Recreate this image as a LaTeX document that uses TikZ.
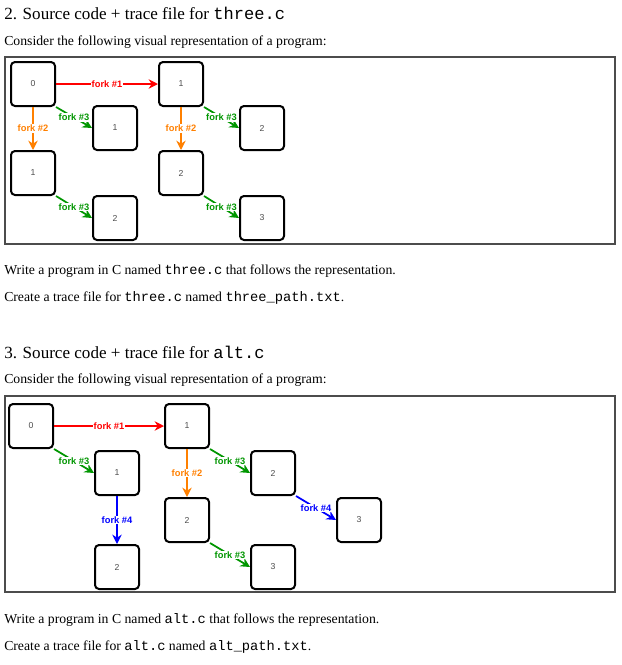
\documentclass[tikz,border=0pt]{standalone}
\usepackage{fontspec}
\setmainfont{Liberation Serif}
\setmonofont{Liberation Mono}
\newfontfamily\dsans{Liberation Sans}
\usetikzlibrary{arrows.meta}
\definecolor{fgreen}{RGB}{0,150,0}
\definecolor{forange}{RGB}{255,128,0}
\begin{document}
\begin{tikzpicture}[x=0.75pt,y=-0.75pt,
 box/.style={draw,line width=1.5pt,rounded corners=3pt,minimum size=33pt,inner sep=0pt,font=\dsans\fontsize{6.5}{7}\selectfont,text=black!70},
 fk/.style={line width=1.3pt,-{Stealth[length=7pt,width=7pt]}},
 lb/.style={fill=white,inner sep=0.5pt,font=\dsans\bfseries\fontsize{7}{8}\selectfont},
 frame/.style={draw=black!70,line width=0.8pt},
 h/.style={anchor=west,inner sep=0pt,font=\fontsize{12.8}{15}\selectfont},
 t/.style={anchor=west,inner sep=0pt,font=\fontsize{10.3}{12}\selectfont}]
\useasboundingbox (0,0) rectangle (622,665);
\node[h] (h2) at (4,13) {2. Source code + trace file for \texttt{three.c}};
\node[t] (c2) at (4,42) {Consider the following visual representation of a program:};
\draw[frame] (5,57) rectangle (615,244);
\node[box] (a0) at (33,84) {0};
\node[box] (a1) at (181,84) {1};
\node[box] (a2) at (115,128) {1};
\node[box] (a3) at (33,173) {1};
\node[box] (a4) at (115,218) {2};
\node[box] (a5) at (181,173) {2};
\node[box] (a6) at (262,128) {2};
\node[box] (a7) at (262,218) {3};
\draw[fk,red] (a0.east) -- node[lb]{fork \#1} (a1.west);
\draw[fk,forange] (a0.south) -- node[lb]{fork \#2} (a3.north);
\draw[fk,forange] (a1.south) -- node[lb]{fork \#2} (a5.north);
\draw[fk,fgreen] (a0.south east) -- node[lb]{fork \#3} (a2.west);
\draw[fk,fgreen] (a3.south east) -- node[lb]{fork \#3} (a4.west);
\draw[fk,fgreen] (a1.south east) -- node[lb]{fork \#3} (a6.west);
\draw[fk,fgreen] (a5.south east) -- node[lb]{fork \#3} (a7.west);
\node[t] (w2) at (4,271) {Write a program in C named \texttt{three.c} that follows the representation.};
\node[t] (r2) at (4,298) {Create a trace file for \texttt{three.c} named \texttt{three\_path.txt}.};
\node[h] (h3) at (4,352) {3. Source code + trace file for \texttt{alt.c}};
\node[t] (c3) at (4,380) {Consider the following visual representation of a program:};
\draw[frame] (5,396) rectangle (615,592);
\node[box] (b0) at (31,426) {0};
\node[box] (b1) at (187,426) {1};
\node[box] (b2) at (117,473) {1};
\node[box] (b3) at (117,567) {2};
\node[box] (b4) at (187,520) {2};
\node[box] (b5) at (273,473) {2};
\node[box] (b6) at (359,520) {3};
\node[box] (b7) at (273,567) {3};
\draw[fk,red] (b0.east) -- node[lb]{fork \#1} (b1.west);
\draw[fk,fgreen] (b0.south east) -- node[lb]{fork \#3} (b2.west);
\draw[fk,blue] (b2.south) -- node[lb]{fork \#4} (b3.north);
\draw[fk,forange] (b1.south) -- node[lb]{fork \#2} (b4.north);
\draw[fk,fgreen] (b1.south east) -- node[lb]{fork \#3} (b5.west);
\draw[fk,blue] (b5.south east) -- node[lb]{fork \#4} (b6.west);
\draw[fk,fgreen] (b4.south east) -- node[lb]{fork \#3} (b7.west);
\node[t] (w3) at (4,620) {Write a program in C named \texttt{alt.c} that follows the representation.};
\node[t] (r3) at (4,647) {Create a trace file for \texttt{alt.c} named \texttt{alt\_path.txt}.};
\end{tikzpicture}
\end{document}
